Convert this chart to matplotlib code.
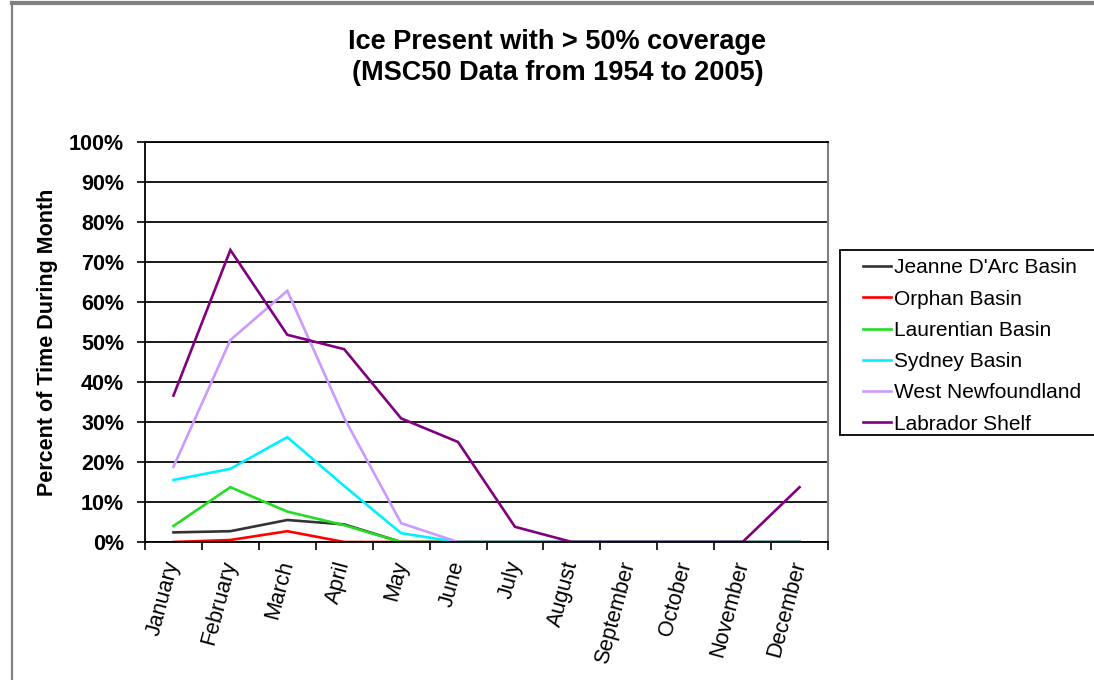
import matplotlib
matplotlib.use("Agg")
import matplotlib.pyplot as plt
from matplotlib.lines import Line2D
from matplotlib.patches import Rectangle
from matplotlib.ticker import FixedLocator, PercentFormatter

months = ["January", "February", "March", "April", "May", "June", "July",
          "August", "September", "October", "November", "December"]

jeanne_darc = [2.4, 2.7, 5.5, 4.4, 0, 0, 0, 0, 0, 0, 0, 0]
orphan = [0, 0.5, 2.7, 0, 0, 0, 0, 0, 0, 0, 0, 0]
laurentian = [4.0, 13.7, 7.6, 4.2, 0, 0, 0, 0, 0, 0, 0, 0]
sydney = [15.5, 18.3, 26.2, 14.0, 2.2, 0, 0, 0, 0, 0, 0, 0]
west_newfoundland = [18.8, 50.5, 62.8, 31.0, 4.7, 0, 0, 0, 0, 0, 0, 0]
labrador_shelf = [36.6, 73.0, 51.8, 48.2, 30.9, 25.0, 3.8, 0, 0, 0, 0, 13.7]

series = [
    ("Jeanne D'Arc Basin", jeanne_darc, "#333333"),
    ("Orphan Basin", orphan, "#ff0000"),
    ("Laurentian Basin", laurentian, "#22dd22"),
    ("Sydney Basin", sydney, "#00f0ff"),
    ("West Newfoundland", west_newfoundland, "#cc99ff"),
    ("Labrador Shelf", labrador_shelf, "#800080"),
]

plt.rcParams["font.family"] = ["Liberation Sans", "DejaVu Sans"]

W, H = 1094, 680
fig = plt.figure(figsize=(W / 100, H / 100), dpi=100)
ax = fig.add_axes([145 / W, 1 - 542 / H, (828 - 145) / W, (542 - 142) / H])

x = list(range(len(months)))
for name, vals, color in series:
    ax.plot(x, vals, color=color, lw=1.9, label=name, solid_joinstyle="miter")

ax.set_xlim(-0.5, len(months) - 0.5)
ax.set_ylim(0, 100)

# horizontal gridlines every 10%
ax.yaxis.set_major_locator(FixedLocator(range(0, 101, 10)))
ax.yaxis.set_major_formatter(PercentFormatter(decimals=0))
ax.grid(axis="y", color="#1a1a1a", lw=1.4)
ax.set_axisbelow(True)

# category labels at centres, tick marks at boundaries
ax.set_xticks(x)
ax.set_xticklabels(months, rotation=75, ha="right", va="center",
                   rotation_mode="anchor", fontsize=15.5)
ax.tick_params(axis="x", which="major", length=0, pad=14)
ax.set_xticks([i - 0.5 for i in range(len(months) + 1)], minor=True)
ax.tick_params(axis="x", which="minor", length=6, width=1.2, direction="out",
               color="black")

ax.tick_params(axis="y", length=6, width=1.2, direction="out", labelsize=15.5,
               pad=9)
for lbl in ax.get_yticklabels():
    lbl.set_fontweight("bold")

for side in ("left", "bottom", "top"):
    ax.spines[side].set_color("black")
    ax.spines[side].set_linewidth(1.3)
ax.spines["right"].set_color("#808080")
ax.spines["right"].set_linewidth(1.5)

ax.set_ylabel("Percent of Time During Month", fontsize=15.5,
              fontweight="bold", labelpad=8)

fig.text(0.5 * (145 + 970) / W, 1 - 42 / H, "Ice Present with > 50% coverage",
         ha="center", va="center", fontsize=19.5, fontweight="bold")
fig.text(0.5 * (145 + 970) / W, 1 - 73 / H, "(MSC50 Data from 1954 to 2005)",
         ha="center", va="center", fontsize=19.5, fontweight="bold")

# legend box, with the entries inset from its left edge
fig.add_artist(Rectangle((840 / W, 1 - 435 / H), (1110 - 840) / W, (435 - 250) / H,
                         transform=fig.transFigure, facecolor="white",
                         edgecolor="black", lw=1.3, clip_on=False))
leg = fig.legend(loc="upper left", bbox_to_anchor=(857 / W, 1 - 252 / H),
                 fontsize=15, frameon=False, handlelength=1.35,
                 handletextpad=0.15, labelspacing=0.59, borderpad=0.3,
                 borderaxespad=0)

# outer chart border
fig.add_artist(Line2D([12 / W, 12 / W], [0, 1 - 2 / H], transform=fig.transFigure,
                      color="#808080", lw=1.6))
fig.add_artist(Line2D([12 / W, 1], [1 - 3 / H, 1 - 3 / H], transform=fig.transFigure,
                      color="#808080", lw=3))

fig.savefig("out.png", dpi=100)
